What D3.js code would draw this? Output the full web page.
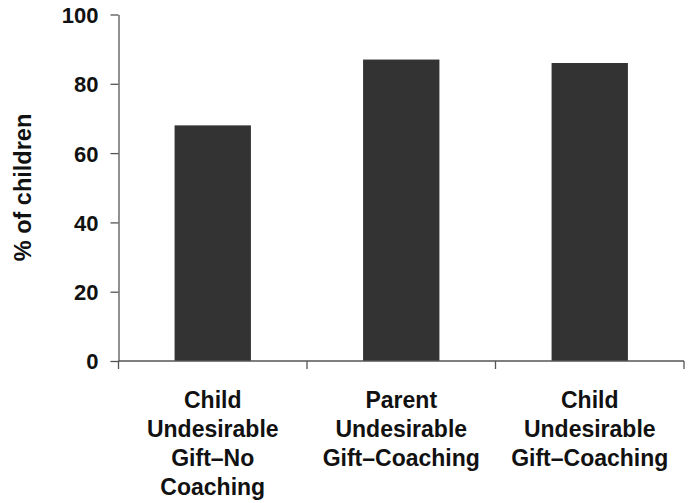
<!DOCTYPE html>
<html><head><meta charset="utf-8">
<script src="https://cdn.jsdelivr.net/npm/d3@7"></script>
<style>
html,body{margin:0;padding:0;background:#fff;}
text{font-family:"Liberation Sans",Arial,Helvetica,sans-serif;font-weight:bold;fill:#111;}
</style></head>
<body><svg id="c" width="696" height="503"></svg>
<script>
const categories = [
  ["Child","Undesirable","Gift\u2013No","Coaching"],
  ["Parent","Undesirable","Gift\u2013Coaching"],
  ["Child","Undesirable","Gift\u2013Coaching"]
];
const values = [68, 87, 86];
const yTicks = [0, 20, 40, 60, 80, 100];
const yLabel = "% of children";

const svg = d3.select("#c");
const x = d3.scaleBand().domain(d3.range(categories.length)).range([118.5, 684]).padding(0);
const y = d3.scaleLinear().domain([0, 100]).range([361, 14.5]);
const axisColor = "#555";

// bars
const bw = x.bandwidth() * 0.405;
svg.selectAll("rect.bar").data(values).enter().append("rect")
  .attr("x", (d,i) => x(i) + x.bandwidth()/2 - bw/2)
  .attr("y", d => y(d))
  .attr("width", bw)
  .attr("height", d => y(0) - y(d))
  .attr("fill", "#333");

// y axis
const yAxis = svg.append("g").attr("transform", "translate(118.5,0)")
  .call(d3.axisLeft(y).tickValues(yTicks).tickSize(8).tickPadding(12).tickSizeOuter(0));
yAxis.select(".domain").attr("stroke", axisColor).attr("stroke-width", 1.3);
yAxis.selectAll(".tick line").attr("stroke", axisColor).attr("stroke-width", 1.3);
yAxis.selectAll(".tick text").attr("font-size", 22).attr("font-family", null).attr("fill", "#111").attr("dy", "0.36em");

// x axis line with boundary ticks
svg.append("line").attr("x1", x.range()[0]).attr("x2", x.range()[1])
  .attr("y1", y(0)).attr("y2", y(0)).attr("stroke", axisColor).attr("stroke-width", 1.3);
const bounds = d3.range(categories.length + 1).map(i => i < categories.length ? x(i) : x.range()[1]);
svg.selectAll("line.xt").data(bounds).enter().append("line")
  .attr("x1", d => d).attr("x2", d => d)
  .attr("y1", y(0)).attr("y2", y(0) + 8)
  .attr("stroke", axisColor).attr("stroke-width", 1.3);

// category labels
categories.forEach((lines, i) => {
  const t = svg.append("text").attr("text-anchor", "middle").attr("font-size", 23)
    .attr("x", x(i) + x.bandwidth()/2).attr("y", 408);
  lines.forEach((l, j) => {
    t.append("tspan").attr("x", x(i) + x.bandwidth()/2).attr("y", 408 + j*29).text(l);
  });
});

// y label
svg.append("text").attr("text-anchor", "middle").attr("font-size", 23.5)
  .attr("transform", "translate(30.5,187.5) rotate(-90)").text(yLabel);
</script></body></html>
